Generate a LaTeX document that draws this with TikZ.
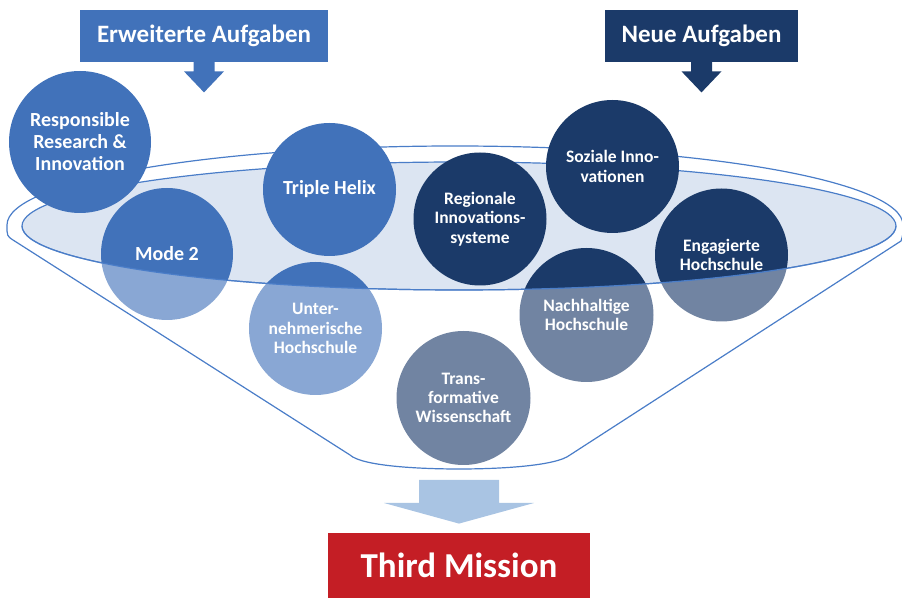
\documentclass[tikz,border=0pt]{standalone}
\usepackage{fontspec}
\setmainfont{Carlito}
\usepackage{xcolor}
\usepackage{tikz}
\usetikzlibrary{calc}
\definecolor{midblue}{HTML}{4172BA}
\definecolor{navyblue}{HTML}{1B3A69}
\definecolor{rimblue}{HTML}{4A7DC8}
\definecolor{rimfill}{HTML}{DCE5F2}
\definecolor{flowblue}{HTML}{A9C4E3}
\definecolor{missionred}{HTML}{C41E25}
\tikzset{
  taskbox/.style={fill=#1, text=white, inner sep=0pt, minimum height=26pt, font=\fontsize{12.5}{15}\selectfont\bfseries},
  topic/.style={circle, fill=#1, text=white, align=center, inner sep=0pt, minimum size=66.5pt},
  topicbig/.style={font=\fontsize{10}{11}\selectfont\bfseries},
  topicsmall/.style={font=\fontsize{8.75}{9.65}\selectfont\bfseries},
  funnelline/.style={draw=rimblue, line width=0.6pt},
  fadeveil/.style={fill=white, fill opacity=0.38},
  flowarrow/.style={fill=#1}
}

\begin{document}
\begin{tikzpicture}[x=0.5pt, y=-0.5pt]
\useasboundingbox (0,0) rectangle (902,598);
% back of the funnel
\draw[funnelline] (7,225) arc[start angle=180, end angle=0, x radius=224pt, y radius=39.5pt];
\fill[rimfill] (459,226) ellipse [x radius=218.5pt, y radius=32pt];
\draw[funnelline] (459,226) ellipse [x radius=218.5pt, y radius=32pt];
% headers
\node[taskbox=midblue, minimum width=124pt] (erw) at (204,36) {Erweiterte Aufgaben};
\node[taskbox=navyblue, minimum width=96.5pt] (neu) at (701.5,36) {Neue Aufgaben};
\foreach \h/\c in {erw/midblue,neu/navyblue} {
  \fill[flowarrow=\c] ($(\h.south)+(-10.5,-1)$) -- ++(0,10) -- ++(-9.5,0) -- ++(20,21) -- ++(20,-21) -- ++(-9.5,0) -- ++(0,-10) -- cycle;
}
% topics
\node[topic=midblue, topicbig, minimum size=71pt] (rri) at (80,142) {Responsible\\Research \&\\Innovation};
\node[topic=midblue, topicbig, minimum size=66pt] (mode) at (167,254) {Mode 2};
\node[topic=midblue, topicbig] (helix) at (329.5,189.5) {Triple Helix};
\node[topic=midblue, topicsmall] (untern) at (315.5,328.5) {Unter-\\nehmerische\\Hochschule};
\node[topic=navyblue, topicsmall] (region) at (480,219) {Regionale\\Innovations-\\systeme};
\node[topic=navyblue, topicsmall] (sozial) at (612.5,166.5) {Soziale Inno-\\vationen};
\node[topic=navyblue, topicsmall] (engag) at (721.5,255) {Engagierte\\Hochschule};
\node[topic=navyblue, topicsmall, minimum size=67pt] (nachh) at (586.5,315) {Nachhaltige\\Hochschule};
\node[topic=navyblue, topicsmall, minimum size=67pt] (transf) at (463.5,398) {Trans-\\formative\\Wissenschaft};
% front of the funnel
\fill[fadeveil] (22,226) arc[start angle=180, end angle=360, x radius=218.5pt, y radius=32pt]
  -- (903,225) .. controls (903,235) .. (901,241) -- (570,455)
  .. controls (556,466) and (500,469) .. (459,469)
  .. controls (418,469) and (362,466) .. (350,455)
  -- (13,240) .. controls (7,236) .. (7,225) -- cycle;
\draw[funnelline] (22,226) arc[start angle=180, end angle=360, x radius=218.5pt, y radius=32pt];
\draw[funnelline] (903,225) .. controls (903,235) .. (901,241) -- (570,455)
  .. controls (556,466) and (500,469) .. (459,469)
  .. controls (418,469) and (362,466) .. (350,455)
  -- (13,240) .. controls (7,236) .. (7,225);
% outcome
\node[taskbox=missionred, minimum width=131pt, minimum height=32.5pt, font=\fontsize{17.5}{20}\selectfont\bfseries] (third) at (459,565.5) {Third Mission};
\fill[flowarrow=flowblue] (419,480) -- (499,480) -- (499,503) -- (534,503) -- ($(third.north)+(0,-9)$) -- (384,503) -- (419,503) -- cycle;
\end{tikzpicture}
\end{document}
